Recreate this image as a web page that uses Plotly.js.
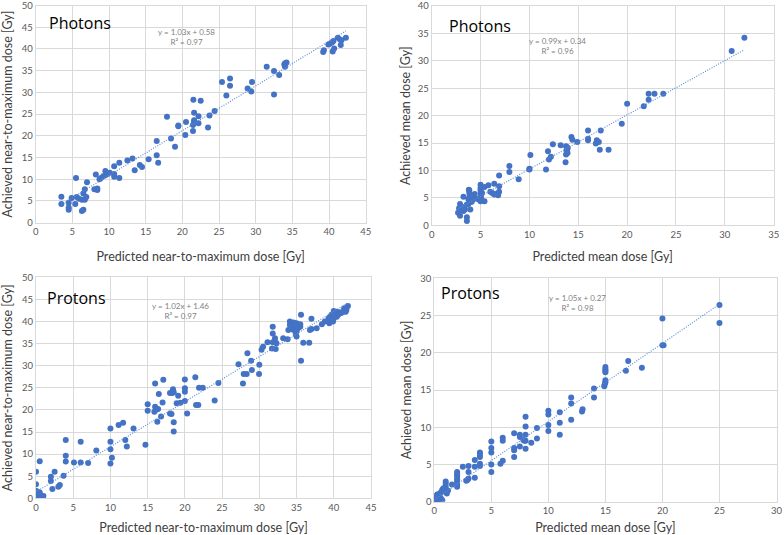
<!DOCTYPE html>
<html>
<head>
<meta charset="utf-8">
<script src="https://cdn.plot.ly/plotly-3.0.1.min.js"></script>
<style>html,body{margin:0;padding:0;background:#fff;}#chart{width:784px;height:535px;}</style>
</head>
<body>
<div id="chart"></div>
<script>
// ---- Panel A: Photons, near-to-maximum dose ----
const photonsMaxPred = [3.5,3.5,4.5,4.5,4.5,4.9,5.4,5.5,5.6,5.9,6.3,6.3,6.5,6.5,6.7,6.7,6.9,7.0,8.0,8.2,8.4,8.4,8.7,8.9,9.2,9.5,9.5,9.8,10.1,10.7,10.7,10.7,11.4,11.4,12.5,13.2,13.5,14.2,14.5,15.4,16.5,16.5,16.7,17.9,18.45,19.0,19.45,19.45,20.4,20.5,21.5,22.5,21.6,21.6,21.6,21.45,22.2,22.2,21.45,23.5,23.7,24.4,25.4,26.5,26.5,26.0,28.9,29.4,29.5,31.5,32.5,32.5,33.2,33.9,34.0,34.2,34.0,39.2,39.3,39.9,40.1,40.4,40.6,40.5,40.7,41.2,41.5,41.6,41.7,42.3];
const photonsMaxAch  = [6.0,4.3,4.6,3.5,3.0,5.7,4.3,10.3,5.9,5.5,5.3,2.7,3.0,6.7,5.3,7.7,5.9,9.3,7.7,11.1,7.5,7.9,10.0,10.3,10.7,10.9,11.9,11.2,11.5,11.2,10.6,13.0,10.3,13.8,14.3,14.8,12.1,13.3,12.8,14.6,18.8,15.5,13.8,24.4,19.4,17.5,22.4,22.2,20.2,23.2,28.3,28.1,25.3,23.6,23.2,22.5,22.9,24.5,21.1,21.9,24.7,25.7,32.4,33.2,31.5,29.3,30.9,30.2,32.4,35.9,34.9,29.5,34.0,36.4,36.7,36.9,35.9,39.3,39.7,41.0,41.2,41.5,41.8,39.4,40.1,42.6,42.2,40.9,42.0,42.6];
const photonsMaxFit = {slope: 1.03, intercept: 0.58, xRange: [3.5, 42.3], label: "y = 1.03x + 0.58<br>R² = 0.97"};

// ---- Panel B: Photons, mean dose ----
const photonsMeanPred = [32.0,30.7,20.0,19.45,21.7,22.2,22.2,22.8,23.7,16.0,16.0,16.0,17.3,16.9,17.1,16.8,17.2,18.1,14.9,14.3,14.4,13.2,12.4,13.75,13.9,13.8,13.9,13.75,13.9,13.7,11.9,12.0,12.2,11.7,10.1,10.0,10.0,8.9,7.95,7.95,6.9,6.9,6.9,6.7,6.8,6.4,6.0,6.2,6.4,5.8,5.4,5.4,5.0,5.0,5.0,5.0,5.05,5.0,5.05,5.0,5.15,4.8,4.4,4.5,4.3,4.2,4.1,3.85,3.85,3.9,3.75,3.75,3.95,4.0,3.8,3.6,3.25,3.6,3.6,3.4,3.25,2.9,3.1,2.8,3.2,2.7,2.9];
const photonsMeanAch  = [34.2,31.8,22.15,18.5,21.7,24.0,22.9,24.0,24.0,17.3,15.8,15.5,17.3,15.5,15.2,14.9,13.8,13.8,15.2,16.1,15.6,14.6,14.8,14.4,14.0,13.6,13.2,12.9,14.2,11.5,13.5,12.0,12.5,10.2,12.8,10.3,10.2,8.4,10.8,9.7,9.1,7.1,6.1,5.8,5.5,7.6,6.1,5.9,5.6,7.3,7.0,4.4,7.4,6.8,6.4,5.9,5.5,5.2,4.8,4.4,5.9,4.7,5.7,4.9,5.2,4.7,4.3,6.4,5.9,5.5,4.8,3.9,2.9,4.3,6.5,3.8,5.2,1.45,0.8,2.9,2.6,3.9,3.4,3.1,2.9,2.3,1.75];
const photonsMeanFit = {slope: 0.99, intercept: 0.34, xRange: [2.7, 32.0], label: "y = 0.99x + 0.34<br>R² = 0.96"};

// ---- Panel C: Protons, near-to-maximum dose ----
const protonsMaxPred = [41.9,41.4,41.3,40.8,40.4,40.0,40.2,39.7,39.5,39.3,39.6,39.9,39.4,38.8,38.4,37.7,37.0,40.6,41.0,41.6,41.7,40.0,40.4,37.0,36.8,36.7,35.9,35.6,35.6,35.0,34.1,34.6,35.0,35.5,34.1,34.3,34.8,35.2,34.6,35.0,35.5,33.9,34.9,33.8,33.2,31.8,31.8,32.1,32.1,32.3,31.8,31.7,32.2,31.1,30.5,30.3,30.0,29.96,28.9,28.4,29.0,27.9,28.3,27.8,27.2,24.5,24.0,21.9,22.4,21.4,21.5,21.8,20.0,20.0,20.0,20.0,20.3,19.1,19.4,18.9,18.5,18.5,18.3,18.4,18.5,18.0,18.0,18.2,17.1,17.0,16.8,16.5,16.3,16.0,16.0,16.2,16.4,15.9,15.0,15.0,14.7,13.1,11.7,11.1,12.2,12.0,10.0,10.0,10.0,10.2,10.0,8.1,7.0,6.0,6.0,5.1,4.0,4.0,4.0,3.7,3.2,3.0,2.5,2.0,2.0,2.2,0.5,0.0,0.0,0.0,0.1,0.3,0.2,0.45,0.6,0.0,0.1,0.3,0.5,1.0,0.0,0.2];
const protonsMaxAch  = [43.5,43.0,42.2,42.1,42.2,42.4,41.6,41.5,41.1,40.7,40.5,40.0,39.6,40.0,39.4,38.5,38.3,41.5,41.9,42.2,42.6,40.7,41.1,40.6,38.1,35.2,35.2,41.5,31.1,36.6,40.0,39.8,39.6,39.4,39.2,38.6,38.8,38.5,38.1,37.9,38.8,38.1,37.2,36.0,36.2,38.8,37.3,36.2,35.4,35.1,35.3,33.9,33.8,35.3,34.3,33.6,30.2,28.1,31.1,32.8,29.0,28.1,28.1,26.0,30.3,26.1,22.1,25.0,25.0,27.4,21.1,21.1,26.9,24.9,24.1,22.0,19.2,23.2,21.6,21.5,17.2,15.1,23.8,24.7,24.0,23.8,19.2,19.1,26.8,21.7,18.5,23.6,17.3,26.0,20.7,20.1,20.2,19.6,21.3,19.8,12.1,15.8,17.1,16.6,11.7,13.2,15.8,12.8,11.1,9.2,7.9,10.8,8.0,12.8,8.1,8.1,13.2,9.6,8.3,5.1,3.0,2.6,6.0,4.9,3.9,2.1,8.4,6.0,3.2,1.7,1.1,0.9,0.6,0.4,0.75,0.4,0.05,0.2,1.3,0.5,0.9,1.5];
const protonsMaxFit = {slope: 1.02, intercept: 1.46, xRange: [0, 41.9], label: "y = 1.02x + 1.46<br>R² = 0.97"};

// ---- Panel D: Protons, mean dose ----
const protonsMeanPred = [25.0,25.0,20.0,20.0,20.1,17.0,16.8,18.2,15.0,15.0,15.0,15.0,15.0,15.0,14.95,14.9,14.0,14.0,12.0,12.0,12.0,13.0,12.95,11.0,11.0,11.0,10.0,10.0,10.0,10.0,9.0,9.0,8.5,8.0,8.0,8.0,8.0,8.0,7.9,7.8,7.5,7.5,7.5,7.0,7.0,7.0,7.0,6.0,6.0,6.0,5.8,5.0,5.0,5.0,5.0,5.0,4.0,4.0,4.0,4.0,4.0,3.55,3.55,3.55,3.0,3.0,3.0,2.9,2.8,2.5,2.0,2.0,2.0,2.0,2.0,2.0,2.0,1.55,1.0,1.0,1.0,1.0,1.0,1.1,1.2,0.85,0.8,0.7,0.6,0.5,0.45,0.3,0.2,0.1,0.05,0.2,0.3,0.1,0.0,0.15,0.4,0.6,0.7,0.25,0.05,0.5];
const protonsMeanAch  = [26.4,24.0,24.6,21.0,21.0,18.9,17.6,18.0,18.1,17.8,17.6,17.4,16.3,16.0,15.8,15.5,15.2,14.0,14.0,13.2,11.0,12.4,12.1,12.0,10.6,9.0,12.2,11.7,10.3,9.5,9.9,8.5,7.9,11.4,10.1,9.0,8.2,7.1,8.2,8.3,9.0,8.7,7.4,9.2,7.2,6.9,6.0,8.6,8.2,5.5,5.1,8.1,7.2,6.6,5.0,4.0,6.6,6.3,6.0,5.1,4.8,5.6,4.7,3.2,4.8,4.0,3.1,2.9,2.8,4.7,4.0,3.7,3.4,3.0,2.7,2.3,2.0,2.3,2.7,2.4,2.0,1.6,1.3,1.1,1.5,1.7,1.8,1.6,1.3,1.1,0.8,0.6,0.5,0.3,0.1,0.9,1.0,0.7,0.2,0.15,0.3,0.4,0.2,0.05,0.55,0.5];
const protonsMeanFit = {slope: 1.05, intercept: 0.27, xRange: [0, 25.0], label: "y = 1.05x + 0.27<br>R² = 0.98"};

const panelLabels = ["Photons", "Photons", "Protons", "Protons"];
const xTitles = ["Predicted near-to-maximum dose [Gy]", "Predicted mean dose [Gy]", "Predicted near-to-maximum dose [Gy]", "Predicted mean dose [Gy]"];
const yTitles = ["Achieved near-to-maximum dose [Gy]", "Achieved mean dose [Gy]", "Achieved near-to-maximum dose [Gy]", "Achieved mean dose [Gy]"];
const xMax = [45, 35, 45, 30];
const yMax = [50, 40, 50, 30];

const panels = [
  {x: photonsMaxPred, y: photonsMaxAch, fit: photonsMaxFit},
  {x: photonsMeanPred, y: photonsMeanAch, fit: photonsMeanFit},
  {x: protonsMaxPred, y: protonsMaxAch, fit: protonsMaxFit},
  {x: protonsMeanPred, y: protonsMeanAch, fit: protonsMeanFit}
];

// layout geometry (pixels)
const W = 784, H = 535;
const boxes = [
  {x0: 35.7, x1: 365.7, y0: 5.5, y1: 222.7, lab: [80, 23], eq: [186, 37], xs: 16, ys: 10},
  {x0: 431.7, x1: 773.7, y0: 6.0, y1: 225.3, lab: [480, 26], eq: [557, 46], xs: 13, ys: 4},
  {x0: 36.0, x1: 371.0, y0: 277.3, y1: 498.3, lab: [76, 298], eq: [180, 311], xs: 12, ys: 10},
  {x0: 434.3, x1: 776.5, y0: 278.3, y1: 501.7, lab: [471, 293], eq: [577, 303], xs: 10, ys: 5}
];

const blue = "#4472C4";
const traces = [];
const layout = {
  width: W, height: H,
  margin: {l: 0, r: 0, t: 0, b: 0},
  paper_bgcolor: "#ffffff", plot_bgcolor: "#ffffff",
  showlegend: false,
  font: {family: "Lato, 'Open Sans', sans-serif", color: "#595959"},
  annotations: []
};

panels.forEach((p, i) => {
  const n = i === 0 ? "" : String(i + 1);
  const xa = "x" + n, ya = "y" + n;
  traces.push({
    x: p.x, y: p.y, xaxis: xa, yaxis: ya, type: "scatter", mode: "markers",
    marker: {color: blue, size: 6}, hoverinfo: "x+y"
  });
  const fx = p.fit.xRange;
  traces.push({
    x: fx, y: fx.map(v => p.fit.slope * v + p.fit.intercept), xaxis: xa, yaxis: ya,
    type: "scatter", mode: "lines", line: {color: "#5B8FDA", width: 1.2, dash: "1px,1.5px"}, hoverinfo: "skip"
  });
  const b = boxes[i];
  const axCommon = {
    showgrid: true, gridcolor: "#D9D9D9", gridwidth: 1,
    zeroline: false, showline: true, linecolor: "#D9D9D9", linewidth: 1, mirror: true,
    ticks: "", tickfont: {size: 9.5, color: "#595959", family: "Lato, sans-serif"},
    ticklabeloverflow: "allow",
    dtick: 5, tick0: 0, fixedrange: true
  };
  layout["xaxis" + n] = Object.assign({}, axCommon, {
    domain: [b.x0 / W, b.x1 / W], range: [0, xMax[i]], anchor: ya,
    title: {text: xTitles[i], font: {size: 12.5, color: "#404040", family: "Lato, sans-serif"}, standoff: b.xs}
  });
  layout["yaxis" + n] = Object.assign({}, axCommon, {
    domain: [1 - b.y1 / H, 1 - b.y0 / H], range: [0, yMax[i]], anchor: xa,
    title: {text: yTitles[i], font: {size: 12.5, color: "#404040", family: "Lato, sans-serif"}, standoff: b.ys}
  });
  layout.annotations.push({
    xref: "paper", yref: "paper", x: b.lab[0] / W, y: 1 - b.lab[1] / H,
    text: panelLabels[i], showarrow: false, xanchor: "center", yanchor: "middle",
    font: {size: 16, color: "#000000", family: "'Open Sans', sans-serif"}
  });
  layout.annotations.push({
    xref: "paper", yref: "paper", x: b.eq[0] / W, y: 1 - b.eq[1] / H,
    text: p.fit.label, showarrow: false, xanchor: "center", yanchor: "middle", align: "center",
    font: {size: 8, color: "#7F7F7F", family: "Lato, sans-serif"}
  });
});

Plotly.newPlot("chart", traces, layout, {displayModeBar: false, staticPlot: true});
</script>
</body>
</html>
